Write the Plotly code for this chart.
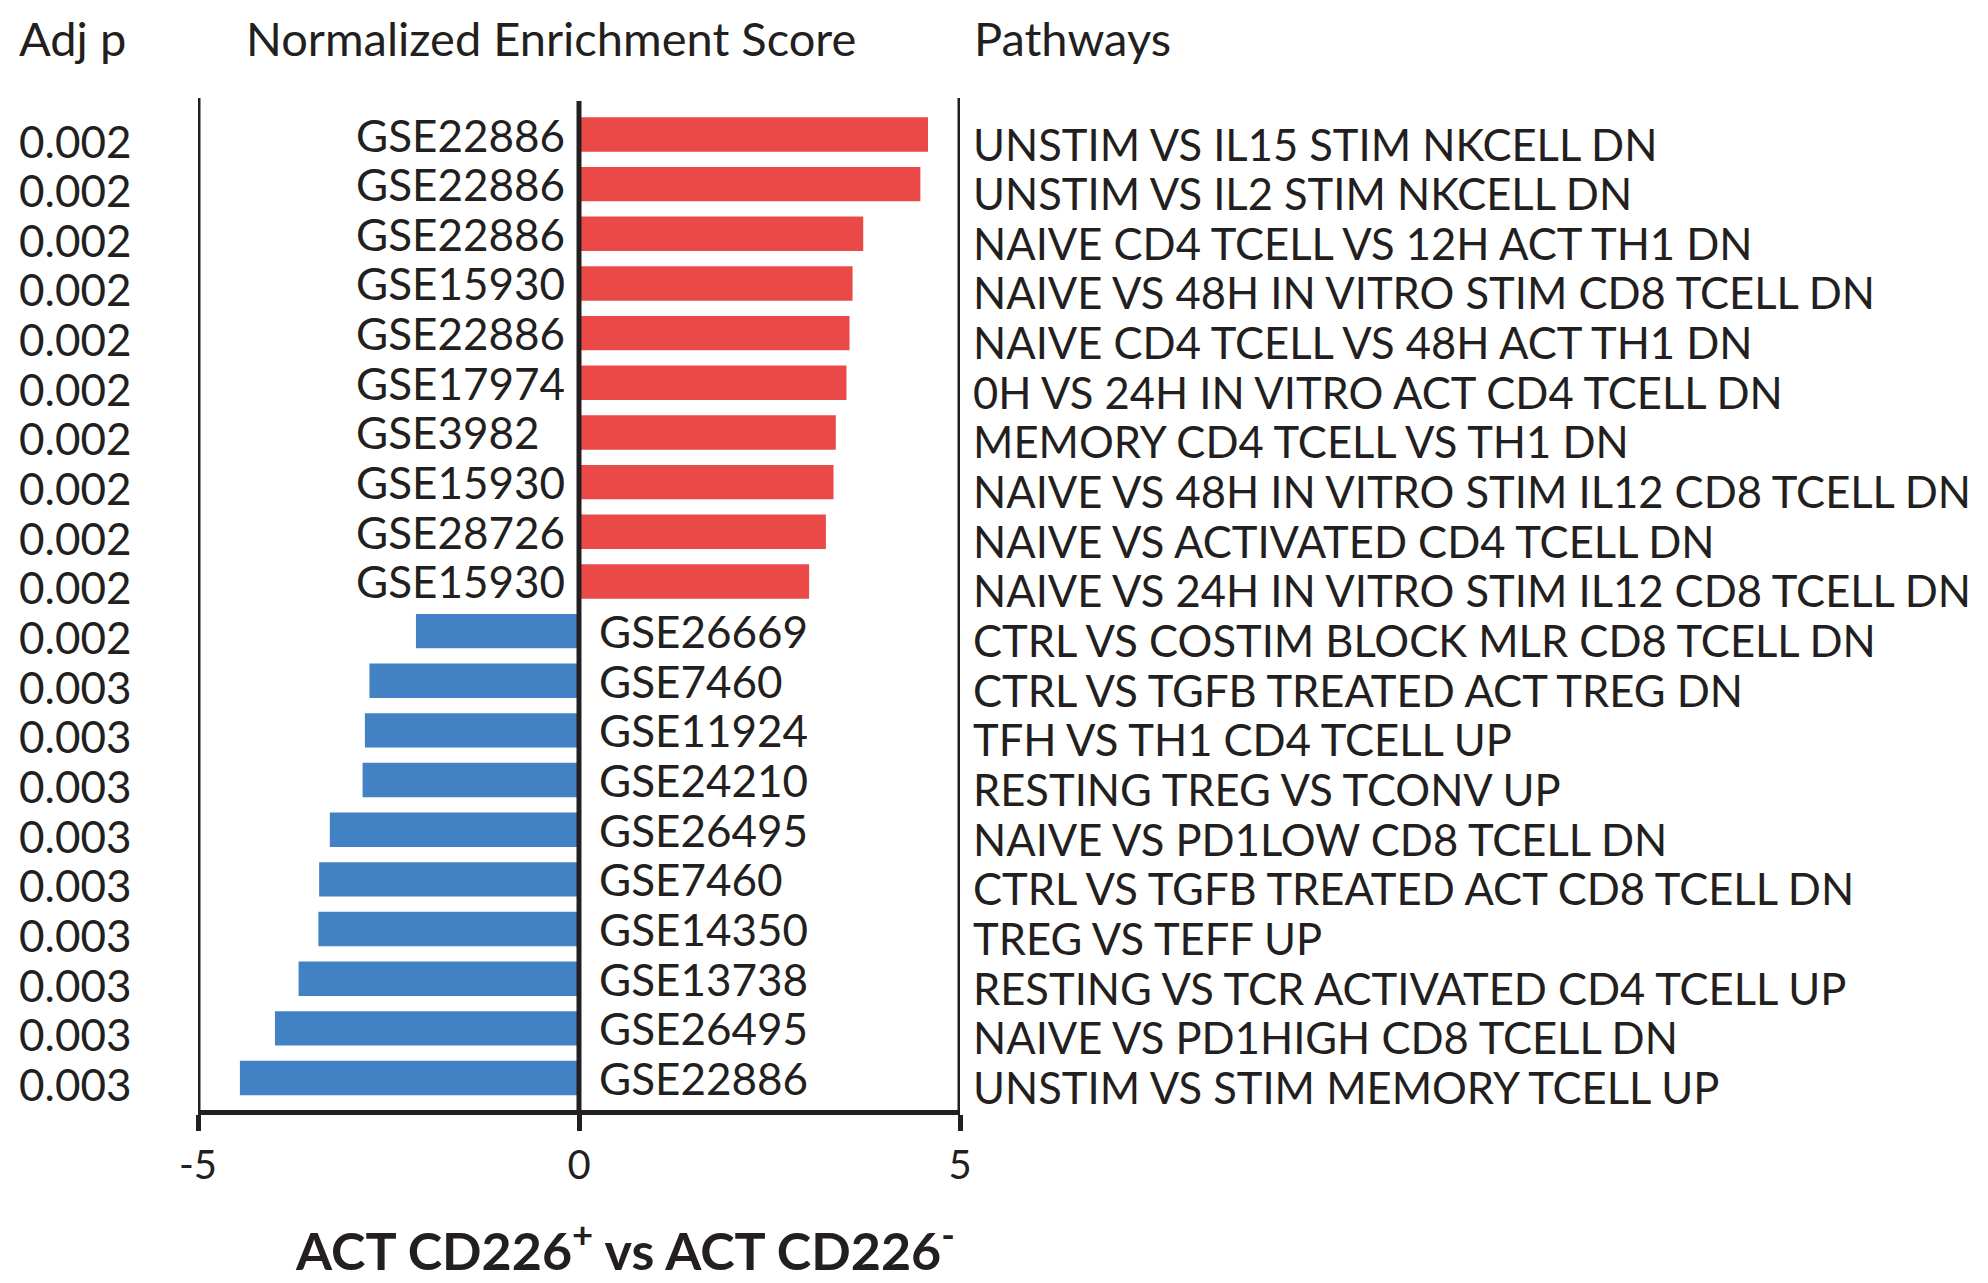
import plotly.graph_objects as go

gse = ["GSE22886", "GSE22886", "GSE22886", "GSE15930", "GSE22886", "GSE17974", "GSE3982",
       "GSE15930", "GSE28726", "GSE15930", "GSE26669", "GSE7460", "GSE11924", "GSE24210",
       "GSE26495", "GSE7460", "GSE14350", "GSE13738", "GSE26495", "GSE22886"]
nes = [4.58, 4.48, 3.73, 3.59, 3.55, 3.51, 3.37, 3.34, 3.24, 3.02,
       -2.14, -2.75, -2.81, -2.84, -3.27, -3.41, -3.42, -3.68, -3.99, -4.45]
adj_p = ["0.002"] * 11 + ["0.003"] * 9
pathways = ["UNSTIM VS IL15 STIM NKCELL DN", "UNSTIM VS IL2 STIM NKCELL DN",
            "NAIVE CD4 TCELL VS 12H ACT TH1 DN", "NAIVE VS 48H IN VITRO STIM CD8 TCELL DN",
            "NAIVE CD4 TCELL VS 48H ACT TH1 DN", "0H VS 24H IN VITRO ACT CD4 TCELL DN",
            "MEMORY CD4 TCELL VS TH1 DN", "NAIVE VS 48H IN VITRO STIM IL12 CD8 TCELL DN",
            "NAIVE VS ACTIVATED CD4 TCELL DN", "NAIVE VS 24H IN VITRO STIM IL12 CD8 TCELL DN",
            "CTRL VS COSTIM BLOCK MLR CD8 TCELL DN", "CTRL VS TGFB TREATED ACT TREG DN",
            "TFH VS TH1 CD4 TCELL UP", "RESTING TREG VS TCONV UP", "NAIVE VS PD1LOW CD8 TCELL DN",
            "CTRL VS TGFB TREATED ACT CD8 TCELL DN", "TREG VS TEFF UP",
            "RESTING VS TCR ACTIVATED CD4 TCELL UP", "NAIVE VS PD1HIGH CD8 TCELL DN",
            "UNSTIM VS STIM MEMORY TCELL UP"]
tick_vals = [-5, 0, 5]
tick_text = ["-5", "0", "5"]

RED = "#EB4848"
BLUE = "#4281C4"
INK = "#231F20"
FONT = "Lato"

# page body has an 8px default margin; work in window pixels and compensate
OFF = 8
W, H = 1988 - 2 * OFF, 1283 - 2 * OFF
L, R, T, B = 198 - OFF, 960 - OFF, 98 - OFF, 1110 - OFF

def px(x):
    return (x - OFF - L) / (R - L)

def py(y):
    return (B - (y - OFF)) / (B - T)

rows = list(range(len(nes)))
colors = [RED if v > 0 else BLUE for v in nes]

fig = go.Figure(go.Bar(
    x=nes, y=rows, orientation="h", marker=dict(color=colors, line=dict(width=0)),
    width=0.693, showlegend=False, hoverinfo="x+y"))

ann = []
for i in rows:
    ann.append(dict(x=px(17), y=i, xref="paper", yref="y", text=adj_p[i], showarrow=False,
                    xanchor="left", yanchor="middle", yshift=-6,
                    font=dict(family=FONT, size=44, color=INK)))
    ann.append(dict(x=px(971), y=i, xref="paper", yref="y", text=pathways[i], showarrow=False,
                    xanchor="left", yanchor="middle", yshift=-9,
                    font=dict(family=FONT, size=43.5, color=INK)))
    gx = px(354) if nes[i] > 0 else px(597)
    ann.append(dict(x=gx, y=i, xref="paper", yref="y", text=gse[i], showarrow=False,
                    xanchor="left", yanchor="middle", yshift=0,
                    font=dict(family=FONT, size=44, color=INK)))

hdr = dict(family=FONT, size=47, color=INK)
ann.append(dict(x=px(17), y=py(38), xref="paper", yref="paper", text="Adj p", showarrow=False,
                xanchor="left", yanchor="middle", font=hdr))
ann.append(dict(x=px(551), y=py(38), xref="paper", yref="paper", text="Normalized Enrichment Score",
                showarrow=False, xanchor="center", yanchor="middle", font=hdr))
ann.append(dict(x=px(972), y=py(38), xref="paper", yref="paper", text="Pathways", showarrow=False,
                xanchor="left", yanchor="middle", font=hdr))
ann.append(dict(x=px(625), y=py(1246), xref="paper", yref="paper",
                text="<b>ACT CD226<sup>+</sup> vs ACT CD226<sup>-</sup></b>", showarrow=False,
                xanchor="center", yanchor="middle", font=dict(family=FONT, size=52, color=INK)))

shapes = []
for xv in tick_vals:
    shapes.append(dict(type="line", xref="x", yref="paper", x0=xv, x1=xv, y0=0,
                       y1=1 if xv != 0 else 0.997,
                       line=dict(color=INK, width=5), layer="above"))

fig.update_layout(
    width=W, height=H, margin=dict(l=L, r=W - R, t=T, b=H - B, pad=0),
    plot_bgcolor="white", paper_bgcolor="white",
    annotations=ann, shapes=shapes,
    xaxis=dict(range=[-5, 5], tickvals=tick_vals, ticktext=tick_text, showgrid=False,
               zeroline=False, showline=True, linecolor=INK, linewidth=5,
               ticks="outside", ticklen=16, tickwidth=5, tickcolor=INK,
               tickfont=dict(family=FONT, size=40, color=INK), fixedrange=True),
    yaxis=dict(range=[19.644, -0.735], visible=False, fixedrange=True),
)

fig.write_html("out.html")
